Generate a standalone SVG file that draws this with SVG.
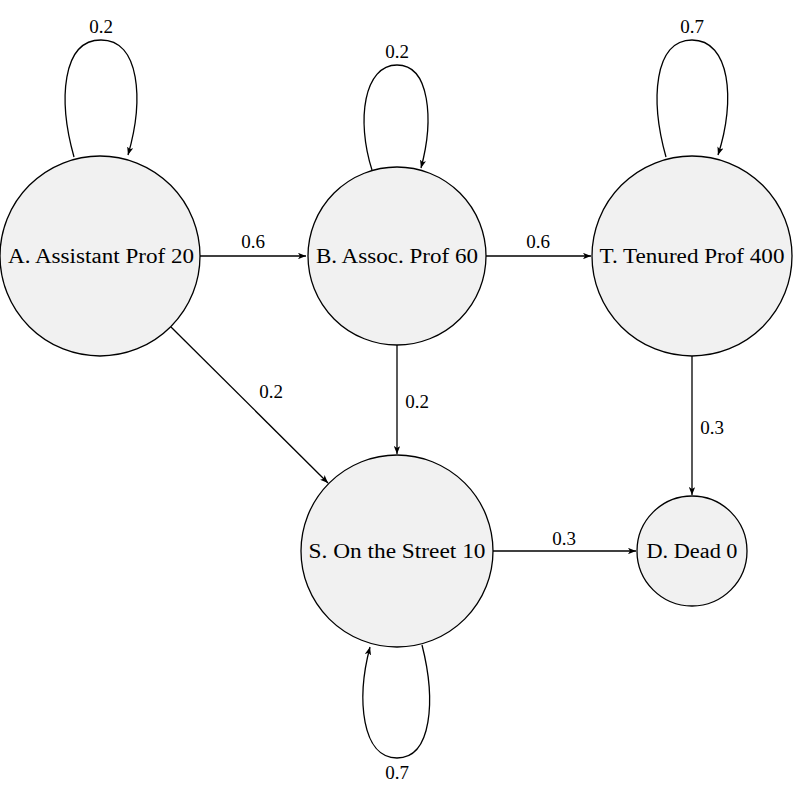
<svg xmlns="http://www.w3.org/2000/svg" width="793" height="796" viewBox="0 0 793 796">
<style>
.node{fill:#f1f1f1;stroke:#000;stroke-width:1.3}
.lbl{font-family:"Liberation Serif","Times New Roman",serif;font-size:20px;fill:#000;text-anchor:middle;dominant-baseline:central}
.num{font-family:"Liberation Serif","Times New Roman",serif;font-size:19px;fill:#000;text-anchor:middle;dominant-baseline:central}
.edge{fill:none;stroke:#000;stroke-width:1.3;marker-end:url(#arr)}
</style>
<defs>
<marker id="arr" viewBox="0 0 10 8" refX="10" refY="4" markerWidth="8" markerHeight="6.4" markerUnits="userSpaceOnUse" orient="auto">
<path d="M0,0 L10,4 L0,8 L2.5,4 Z" fill="#000"/>
</marker>
</defs>
<rect width="793" height="796" fill="#fff"/>
<g id="connectors">
<path class="edge" d="M74,157 C58,100 62,40 101,40 C140,40 144,100 128,155"/>
<path class="edge" d="M372,170 C356,120 364,65 397,65 C430,65 434,120 421,168"/>
<path class="edge" d="M666,157 C650,100 654,40 692,40 C730,40 736,100 718,155"/>
<path class="edge" d="M422,645 C436,700 432,758 397,758 C362,758 356,700 370,647"/>
<path class="edge" d="M200,256 L306,256"/>
<path class="edge" d="M486,256 L591,256"/>
<path class="edge" d="M171,327 L328,483"/>
<path class="edge" d="M397,345 L397,454"/>
<path class="edge" d="M692,356 L692,495"/>
<path class="edge" d="M493,551 L636,551"/>
<text class="num" x="101" y="26">0.2</text>
<text class="num" x="397" y="51">0.2</text>
<text class="num" x="692" y="26">0.7</text>
<text class="num" x="397" y="772">0.7</text>
<text class="num" x="253" y="241">0.6</text>
<text class="num" x="538" y="241">0.6</text>
<text class="num" x="271" y="391">0.2</text>
<text class="num" x="417" y="401">0.2</text>
<text class="num" x="712" y="427">0.3</text>
<text class="num" x="564" y="538">0.3</text>
</g>
<g id="A"><circle class="node" cx="100" cy="256" r="100"/><text class="lbl" x="101" y="256" textLength="186" lengthAdjust="spacingAndGlyphs">A. Assistant Prof 20</text></g>
<g id="B"><circle class="node" cx="397" cy="256" r="89"/><text class="lbl" x="397" y="256" textLength="162" lengthAdjust="spacingAndGlyphs">B. Assoc. Prof 60</text></g>
<g id="T"><circle class="node" cx="692" cy="256" r="100"/><text class="lbl" x="692" y="256" textLength="185" lengthAdjust="spacingAndGlyphs">T. Tenured Prof 400</text></g>
<g id="S"><circle class="node" cx="397" cy="551" r="96"/><text class="lbl" x="397" y="551" textLength="177" lengthAdjust="spacingAndGlyphs">S. On the Street 10</text></g>
<g id="D"><circle class="node" cx="692" cy="551" r="55"/><text class="lbl" x="692" y="551" textLength="91" lengthAdjust="spacingAndGlyphs">D. Dead 0</text></g>
</svg>
